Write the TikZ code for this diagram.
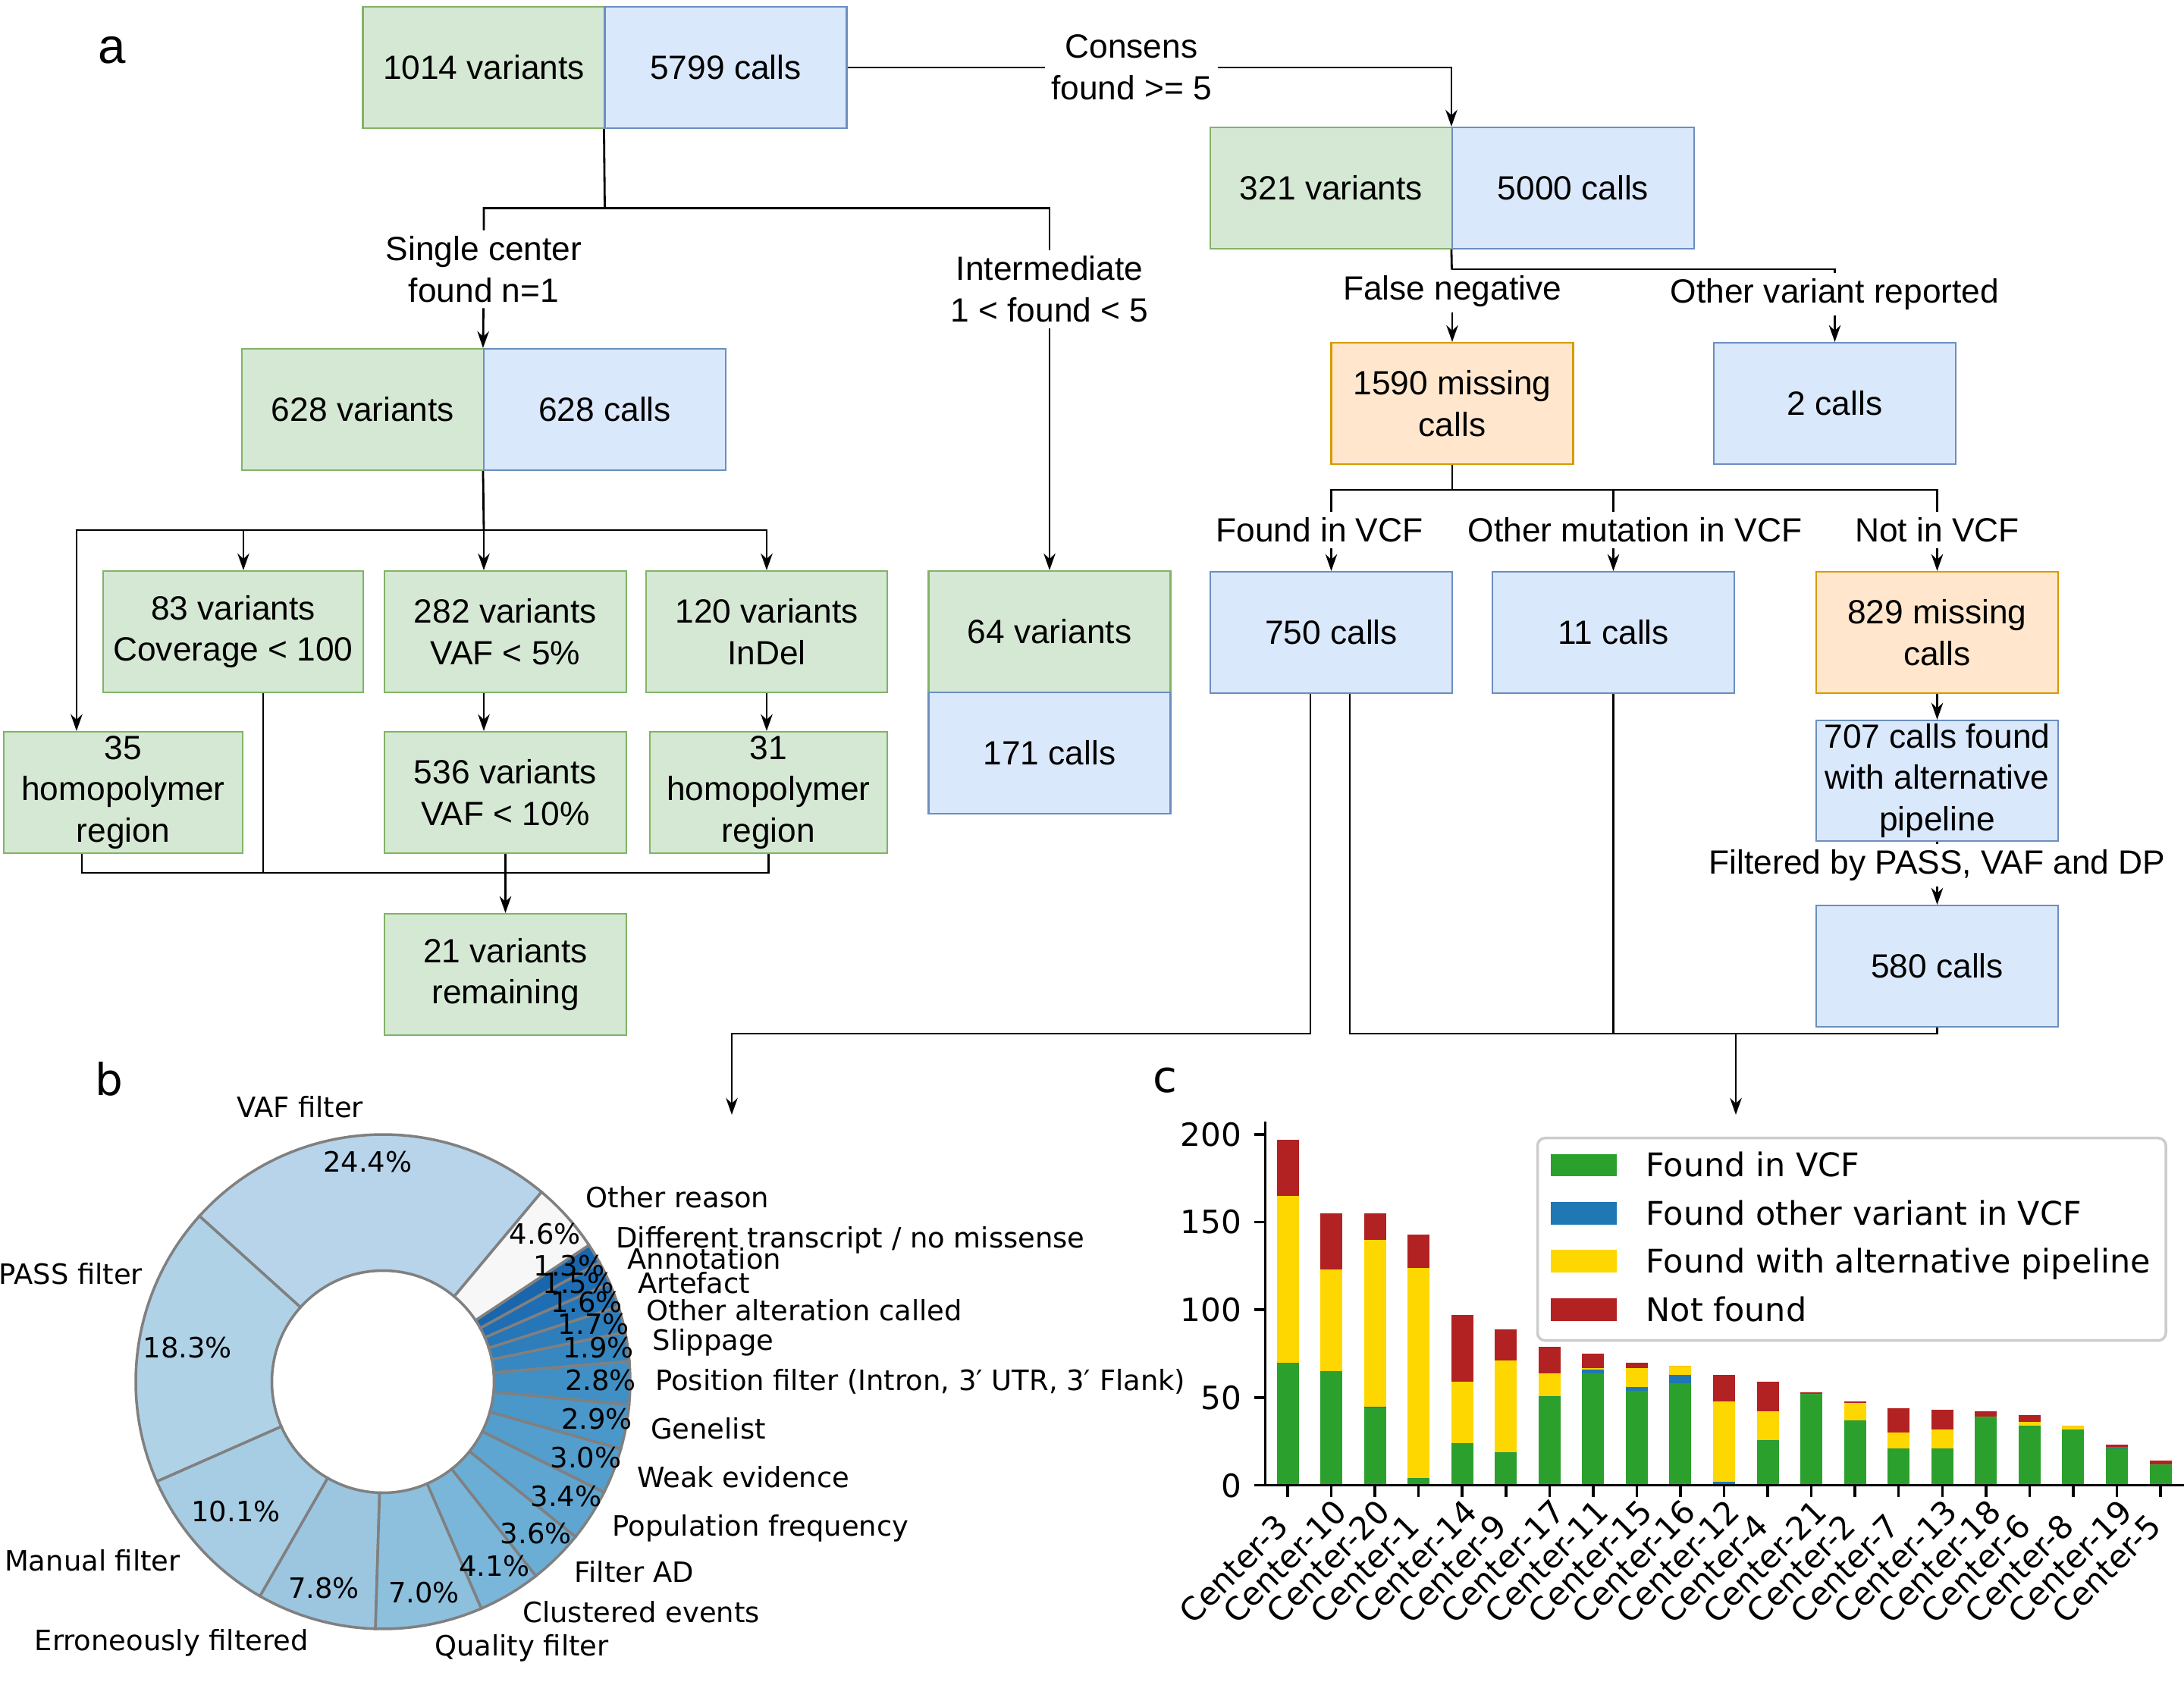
\documentclass[tikz,border=0pt]{standalone}
\usepackage{fontspec}
\usetikzlibrary{arrows.meta}
\newfontfamily\flowfam{Liberation Sans}
\newfontfamily\plotfam{DejaVu Sans}
\newcommand\flowfont{\flowfam\fontsize{12.6}{15.6}\selectfont}
\newcommand\piefont{\plotfam\fontsize{10.5}{12.5}\selectfont}
\newcommand\plotfont{\plotfam\fontsize{12}{14}\selectfont}
\newcommand\legfont{\plotfam\fontsize{12.2}{14}\selectfont}

% flowchart colours
\definecolor{vfill}{HTML}{D5E8D4}\definecolor{vline}{HTML}{82B366}
\definecolor{cfill}{HTML}{DAE8FC}\definecolor{cline}{HTML}{6C8EBF}
\definecolor{mfill}{HTML}{FFE6CC}\definecolor{mline}{HTML}{D79B00}
% donut colours
\definecolor{pA}{HTML}{B7D4EA}\definecolor{pB}{HTML}{B0D2E7}
\definecolor{pC}{HTML}{A6CDE3}\definecolor{pD}{HTML}{9CC6E0}
\definecolor{pE}{HTML}{8CC0DD}\definecolor{pF}{HTML}{7AB6D9}
\definecolor{pG}{HTML}{6AAED6}\definecolor{pH}{HTML}{5FA5D1}
\definecolor{pI}{HTML}{549ECD}\definecolor{pJ}{HTML}{4A97C9}
\definecolor{pK}{HTML}{4190C5}\definecolor{pL}{HTML}{3787C0}
\definecolor{pM}{HTML}{2E7EBC}\definecolor{pN}{HTML}{2676B8}
\definecolor{pO}{HTML}{1F6EB3}\definecolor{pP}{HTML}{1966AD}
\definecolor{pQ}{HTML}{F7F7F7}\definecolor{pieedge}{HTML}{808080}
% bar colours
\definecolor{barvcf}{HTML}{2CA02C}\definecolor{barother}{HTML}{1F77B4}
\definecolor{baralt}{HTML}{FFD700}\definecolor{barnot}{HTML}{B22222}
\definecolor{legline}{HTML}{CCCCCC}

\tikzset{
  box/.style={draw, minimum height=1.6cm, minimum width=3.19cm, inner sep=0pt,
    align=center, font=\flowfont, line width=0.6pt},
  varbox/.style={box, fill=vfill, draw=vline},
  callbox/.style={box, fill=cfill, draw=cline},
  missbox/.style={box, fill=mfill, draw=mline},
  lbl/.style={inner sep=2pt, align=center, font=\flowfont},
  link/.style={line width=0.8pt},
  arr/.style={link, -{Stealth[length=6.3pt,width=4.4pt]}},
  pct/.style={font=\piefont, inner sep=0pt, text height=8pt, text depth=2.5pt},
  piel/.style={font=\piefont, inner sep=0pt, text height=8pt, text depth=2.5pt},
  xtick/.style={font=\plotfont, inner sep=0pt, anchor=base west, rotate=45},
  ytick/.style={font=\plotfont, inner sep=0pt, anchor=east, xshift=-0.15cm},
  legt/.style={font=\legfont, inner sep=0pt, anchor=base west},
  axisline/.style={line width=1pt},
}

\begin{document}
\begin{tikzpicture}
  \useasboundingbox (0,0) rectangle (28.8,-22.18);

  % ---------- panel a ----------
  \node[inner sep=0pt, font=\flowfam\fontsize{18.6}{20}\selectfont] (pa) at (1.48,-0.66) {a};

  \node[varbox] (v1014) at (6.38,-0.89) {1014 variants};
  \node[callbox] (c5799) at (9.57,-0.89) {5799 calls};
  \node[varbox] (v321) at (17.555,-2.48) {321 variants};
  \node[callbox] (c5000) at (20.745,-2.48) {5000 calls};
  \node[lbl] (consens) at (14.92,-0.89) {Consens\\found >= 5};
  \draw[link] (c5799) -- (consens);
  \draw[arr] (consens) -| (c5000.north west);

  \coordinate (split1) at (7.975,-2.745);
  \node[lbl] (single) at (6.38,-3.55) {Single center\\found n=1};
  \node[lbl] (inter) at (13.84,-3.815) {Intermediate\\1 < found < 5};
  \node[varbox] (v628) at (4.785,-5.40) {628 variants};
  \node[callbox] (c628) at (7.975,-5.40) {628 calls};
  \draw[link] (c5799.south west) -- (split1) -| (single);
  \draw[link] (split1) -| (inter);
  \draw[arr] (single) -- (c628.north west);

  \node[varbox, minimum width=3.43cm] (v83) at (3.075,-8.33) {83 variants\\Coverage < 100};
  \node[varbox] (v282) at (6.665,-8.33) {282 variants\\VAF < 5\%};
  \node[varbox, minimum width=3.18cm] (v120) at (10.11,-8.33) {120 variants\\InDel};
  \node[varbox] (v64) at (13.84,-8.33) {64 variants};
  \node[callbox] (c171) at (13.84,-9.93) {171 calls};
  \draw[arr] (inter) -- (v64);

  \node[varbox, minimum width=3.15cm] (v35) at (1.625,-10.45) {35\\homopolymer\\region};
  \node[varbox] (v536) at (6.665,-10.45) {536 variants\\VAF < 10\%};
  \node[varbox, minimum width=3.13cm] (v31) at (10.135,-10.45) {31\\homopolymer\\region};
  \node[varbox] (v21) at (6.665,-12.85) {21 variants\\remaining};

  \coordinate (split2) at (6.38,-6.99);
  \draw[link] (c628.south west) -- (split2);
  \draw[arr] (split2) -| ([xshift=0.97cm]v35.north west);
  \draw[arr] (split2) -| ([xshift=1.86cm]v83.north west);
  \draw[arr] (split2) -- (split2 |- v282.north);
  \draw[arr] (split2) -| (v120.north);
  \draw[arr] (split2 |- v282.south) -- (split2 |- v536.north);
  \draw[arr] (v120.south) -- (v120.south |- v31.north);

  \coordinate (merge) at (6.665,-11.51);
  \draw[link] ([xshift=1.04cm]v35.south west) |- (merge);
  \draw[link] ([xshift=2.12cm]v83.south west) |- (merge);
  \draw[link] (v31.south) |- (merge);
  \draw[link] (v536.south) -- (merge);
  \draw[arr] (merge) -- (v21.north);

  \coordinate (split3) at (19.15,-3.55);
  \node[lbl] (fneg) at (19.15,-3.84) {False negative};
  \node[lbl] (otherrep) at (24.195,-3.88) {Other variant reported};
  \node[missbox] (m1590) at (19.15,-5.32) {1590 missing\\calls};
  \node[callbox] (c2) at (24.195,-5.32) {2 calls};
  \draw[link] (c5000.south west) -- (fneg);
  \draw[arr] (fneg) -- (m1590);
  \draw[link] (split3) -| (otherrep);
  \draw[arr] (otherrep) -- (c2);

  \coordinate (split4) at (19.15,-6.46);
  \node[lbl] (foundvcf) at (17.40,-6.99) {Found in VCF};
  \node[lbl] (othermut) at (21.56,-6.99) {Other mutation in VCF};
  \node[lbl] (notvcf) at (25.545,-6.99) {Not in VCF};
  \node[callbox] (c750) at (17.555,-8.34) {750 calls};
  \node[callbox] (c11) at (21.275,-8.34) {11 calls};
  \node[missbox] (m829) at (25.545,-8.34) {829 missing\\calls};
  \draw[link] (m1590) -- (split4);
  \draw[link] (split4) -| (c750.north |- foundvcf.north);
  \draw[link] (split4) -| (c11.north |- othermut.north);
  \draw[link] (split4) -| (notvcf);
  \draw[arr] (c750.north |- foundvcf.south) -- (c750);
  \draw[arr] (c11.north |- othermut.south) -- (c11);
  \draw[arr] (notvcf) -- (m829);

  \node[callbox, minimum height=1.59cm] (c707) at (25.545,-10.295) {707 calls found\\with alternative\\pipeline};
  \node[lbl] (filt) at (25.545,-11.41) {Filtered by PASS, VAF and DP};
  \node[callbox] (c580) at (25.545,-12.74) {580 calls};
  \draw[arr] (m829) -- (c707);
  \draw[link] (c707) -- (filt);
  \draw[arr] (filt) -- (c580);

  \coordinate (busL) at (9.65,-13.63);
  \coordinate (pieIn) at (9.65,-14.70);
  \coordinate (busR) at (22.89,-13.63);
  \coordinate (barIn) at (22.89,-14.70);
  \draw[arr] ([xshift=-0.275cm]c750.south) |- (busL) -- (pieIn);
  \draw[link] ([xshift=0.245cm]c750.south) |- (c580.south |- busR) -- (c580.south);
  \draw[link] (c11.south) -- (c11.south |- busR);
  \draw[arr] (busR) -- (barIn);

  % ---------- panel b ----------
  \node[inner sep=0pt, font=\plotfam\fontsize{16.5}{18}\selectfont] (pb) at (1.44,-14.23) {b};
  \begin{scope}[shift={(5.05,-18.22)}]
    \foreach \s/\e/\c in {50.10/137.94/pA, 137.94/203.82/pB, 203.82/240.18/pC,
        240.18/268.26/pD, 268.26/293.46/pE, 293.46/308.22/pF, 308.22/321.18/pG,
        321.18/333.42/pH, 333.42/344.22/pI, 344.22/354.66/pJ, 354.66/364.74/pK,
        364.74/371.58/pL, 371.58/377.70/pM, 377.70/383.46/pN, 383.46/388.86/pO,
        388.86/393.54/pP, 393.54/410.10/pQ}
      \filldraw[fill=\c, draw=pieedge, line width=1pt] (\s:3.26)
        arc[start angle=\s, end angle=\e, radius=3.26] -- (\e:1.465)
        arc[start angle=\e, end angle=\s, radius=1.465] -- cycle;
    \foreach \m/\r/\p [count=\i] in {94.02/2.87/24.4, 170.88/2.61/18.3, 222.00/2.61/10.1,
        254.22/2.87/7.8, 280.86/2.87/7.0, 300.84/2.87/4.1, 314.70/2.87/3.6,
        327.30/2.87/3.4, 338.82/2.87/3.0, 349.44/2.87/2.9, 359.70/2.87/2.8,
        368.16/2.87/1.9, 374.64/2.87/1.7, 380.58/2.87/1.6, 386.16/2.87/1.5,
        391.20/2.87/1.3, 401.82/2.87/4.6}
      \node[pct] (pct\i) at (\m:\r) {\p\%};
    \foreach \m/\r/\a/\t [count=\i] in {94.02/3.586/east/{VAF filter},
        156.4/3.45/east/{PASS filter}, 222.00/3.586/east/{Manual filter},
        254.22/3.586/east/{Erroneously filtered}, 280.86/3.586/west/{Quality filter},
        300.84/3.586/west/{Clustered events}, 314.70/3.586/west/{Filter AD},
        327.30/3.586/west/{Population frequency}, 338.82/3.586/west/{Weak evidence},
        349.44/3.586/west/{Genelist},
        359.70/3.586/west/{Position filter (Intron, 3′ UTR, 3′ Flank)},
        368.16/3.586/west/{Slippage}, 374.64/3.586/west/{Other alteration called},
        380.58/3.586/west/{Artefact}, 386.16/3.586/west/{Annotation},
        391.20/3.586/west/{Different transcript / no missense},
        401.82/3.586/west/{Other reason}}
      \node[piel, anchor=\a] (pl\i) at (\m:\r) {\t};
  \end{scope}

  % ---------- panel c ----------
  \node[inner sep=0pt, font=\plotfam\fontsize{16.5}{18}\selectfont] (pc) at (15.36,-14.25) {c};
  \begin{scope}[shift={(16.98,-19.587)}, x=0.5755cm, y=0.023155cm]
    \foreach \g/\b/\y/\r/\n [count=\i from 0] in {70/0/95/32/3, 65/0/58/32/10,
        44/1/95/15/20, 4/0/120/19/1, 24/0/35/38/14, 19/0/52/18/9, 51/0/13/15/17,
        64/2/1/8/11, 54/2/11/3/15, 58/5/5/0/16, 0/2/46/15/12, 26/0/16/17/4,
        52/0/0/1/21, 37/0/10/1/2, 21/0/9/14/7, 21/0/11/11/13, 39/0/0/3/18,
        34/0/2/4/6, 32/0/2/0/8, 21/1/0/1/19, 12/0/0/2/5} {
      \fill[barvcf] ({\i-0.252},0) rectangle ({\i+0.252},\g);
      \fill[barother] ({\i-0.252},\g) rectangle ({\i+0.252},{\g+\b});
      \fill[baralt] ({\i-0.252},{\g+\b}) rectangle ({\i+0.252},{\g+\b+\y});
      \fill[barnot] ({\i-0.252},{\g+\b+\y}) rectangle ({\i+0.252},{\g+\b+\y+\r});
      \draw[axisline] (\i,0) -- ++(0,-0.15cm);
      \node[xtick] (xt\i) at ([xshift=-1.25cm,yshift=-1.853cm]\i,0) {Center-\n};
    }
  \end{scope}
  \draw[axisline] (16.685,-14.787) -- (16.685,-19.587);
  \draw[axisline] (16.54,-19.587) -- (28.8,-19.587);
  \foreach \v in {0,50,100,150,200}
    \draw[axisline] (16.685,{-19.587+0.023155*\v}) -- ++(-0.146,0) node[ytick] (yt\v) {\v};

  % legend
  \node[draw=legline, fill=white, fill opacity=0.8, rounded corners=0.1cm, line width=1pt,
    minimum width=8.285cm, minimum height=2.67cm, inner sep=0pt] (legend) at (24.4175,-16.342) {};
  \foreach \c/\t [count=\i from 0] in {barvcf/Found in VCF, barother/Found other variant in VCF,
      baralt/Found with alternative pipeline, barnot/Not found} {
    \fill[\c] (20.45,{-15.365-0.634*\i-0.1485}) rectangle ++(0.865,0.297);
    \node[legt] (lg\i) at (21.70,{-15.365-0.634*\i-0.154}) {\t};
  }
\end{tikzpicture}
\end{document}
